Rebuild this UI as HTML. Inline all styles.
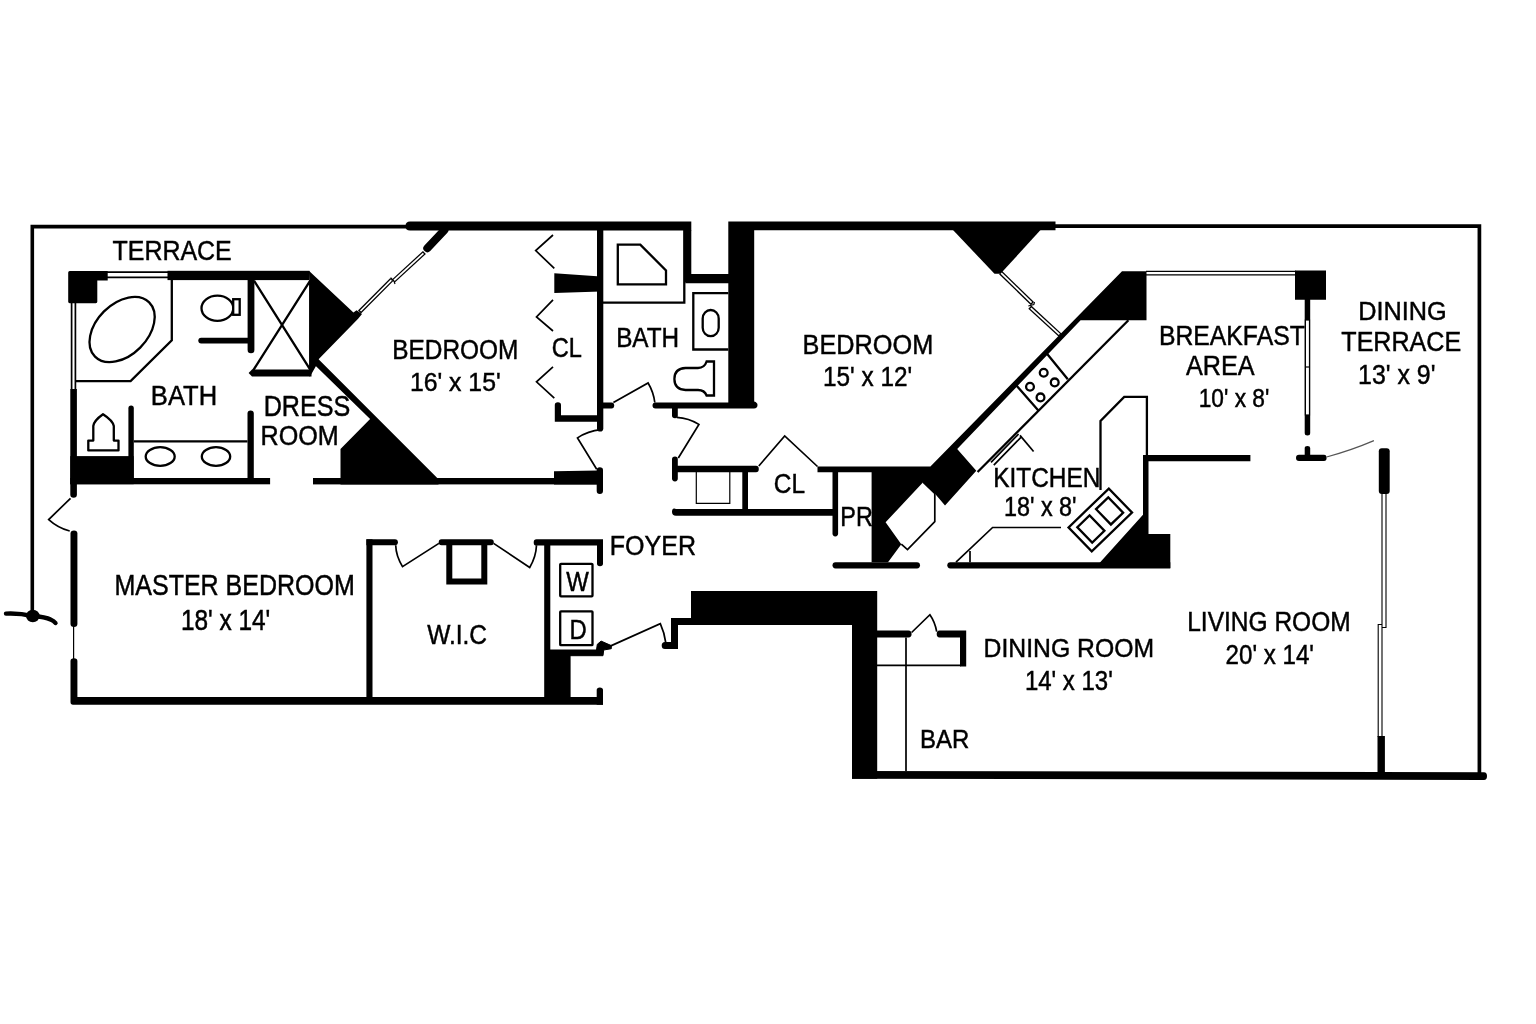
<!DOCTYPE html>
<html><head><meta charset="utf-8"><title>Floor plan</title>
<style>
html,body{margin:0;padding:0;background:#fff;overflow:hidden}
svg{display:block;filter:grayscale(1)}
text{font-family:"Liberation Sans",sans-serif;font-size:27px;fill:#000;stroke:#000;stroke-width:0.45px;vector-effect:non-scaling-stroke}
.k{fill:#000;stroke:none}
.w{fill:#fff;stroke:none}
.t{fill:none;stroke:#000;stroke-width:2.3}
.t15{fill:none;stroke:#000;stroke-width:1.7}
.t1{fill:none;stroke:#000;stroke-width:1.2}
.fw{fill:#fff;stroke:#000;stroke-width:2.3}
</style></head><body>
<svg width="1536" height="1024" viewBox="0 0 1536 1024">
<rect x="0" y="0" width="1536" height="1024" fill="#fff"/>

<!-- OUTER TERRACE LINES -->
<g id="outer">
<path d="M32.3 612V226.6H407" fill="none" stroke="#000" stroke-width="3.6"/>
<path d="M1054 226.2H1479.4V775" fill="none" stroke="#000" stroke-width="3.7"/>
<ellipse cx="32.8" cy="616" rx="6.8" ry="6.2" class="k"/>
<path d="M6 613.6Q20 613 32 616Q46 617 50.5 619.5Q54 621 55.5 623" fill="none" stroke="#000" stroke-width="4.4" stroke-linecap="round"/>
</g>

<!--WALLS-->
<g id="walls" class="k">
<!--SEC:BATH1-->
<path d="M68.2 272.4Q68.2 270.9 69.7 270.9H107.7V280.4H97.3V301.8Q97.3 303.2 95.8 303.2H69.7Q68.2 303.2 68.2 301.8Z"/>
<rect x="167.5" y="270.8" width="142" height="9.3"/>
<path d="M70.3 388.9H76.9V494.5Q76.9 497.7 73.6 497.7Q70.3 497.7 70.3 494.5Z"/>
<rect x="70.3" y="456.1" width="63.4" height="28.1"/>
<path d="M128.4 408.3Q128.4 405.6 131.1 405.6Q133.8 405.6 133.8 408.3V480H128.4Z"/>
<rect x="70.3" y="478" width="199.8" height="6.3"/>
<path d="M247.5 413.5Q247.5 410.6 250.6 410.6Q253.8 410.6 253.8 413.5V480H247.5Z"/>
<path d="M198.3 340.6Q198.3 337.7 201.2 337.7H250V343.6H201.2Q198.3 343.6 198.3 340.6Z"/>
<path d="M247.6 279H254.4V350Q254.4 353.2 251 353.2Q247.6 353.2 247.6 350Z"/>
<path d="M248.6 372.9L252 369.6H311.5V376.4H252Z"/>
<path d="M308.9 270.8L353.4 312.5L356.6 310.2L362 314L358.1 318.8L318.6 359.3L316 366L310 376.4H309.4V280Z"/>
<path d="M317.8 358.5L438.5 479.2V484.4H340.5V449L370.1 419L314.5 364.8Z"/>
<!--SEC:BED1-->
<path d="M405.5 226.2Q405.5 221.6 410 221.6H691.3V230.6H410Q405.5 230.6 405.5 226.2Z"/>
<path d="M427.3 248.2L444.5 230" fill="none" stroke="#000" stroke-width="8" stroke-linecap="round"/>
<path d="M554.3 273.3L600.8 276.6V291.6L554.3 293Z"/>
<path d="M597 229H603.3V428.4Q603.3 431.5 600.1 431.5Q597 431.5 597 428.4Z"/>
<path d="M554.8 405Q554.8 402.3 557.9 402.3Q561 402.3 561 405V415.2H598V421.8H554.8Z"/>
<rect x="313" y="478" width="288" height="6.4"/>
<path d="M554 471.3L598 470.4V484.4H554Z"/>
<path d="M596.7 470Q596.7 467.3 599.8 467.3Q603 467.3 603 470V491Q603 494 599.8 494Q596.7 494 596.7 491Z"/>
<!--SEC:MB-->
<path d="M70.5 533.5Q70.5 530.5 74 530.5Q77.4 530.5 77.4 533.5V624Q77.4 627 74 627Q70.5 627 70.5 624Z"/>
<path d="M70.5 661Q70.5 658.2 74 658.2Q77.4 658.2 77.4 661V697H603V704.7H73Q70.5 704.7 70.5 702Z"/>
<rect x="366.4" y="539.3" width="6.1" height="161"/>
<path d="M366.4 539.3H395Q397.9 539.3 397.9 542.3Q397.9 545.3 395 545.3H366.4Z"/>
<path d="M441.5 539.3H491Q493.8 539.3 493.8 542.3Q493.8 545.3 491 545.3H441.5Q438.7 545.3 438.7 542.3Q438.7 539.3 441.5 539.3Z"/>
<path d="M536.5 539.3H603V563.5Q603 566.3 600 566.3Q597 566.3 597 563.5V545.6H536.5Q533.7 545.6 533.7 542.4Q533.7 539.3 536.5 539.3Z"/>
<path d="M446.3 545H452.3V578.4H481.3V545H487.3V584.4H446.3Z"/>
<rect x="544.2" y="545" width="6.1" height="156"/>
<rect x="550" y="655" width="20.6" height="46"/>
<path d="M550 650H596.5L597.3 644.3L601.1 641.1L611.3 645.6V648.7L603.7 650L603 655.7H550Z" stroke="#000" stroke-width="1" stroke-linejoin="round"/>
<path d="M596.7 690Q596.7 687.5 599.8 687.5Q603 687.5 603 690V704.7H596.7Z"/>
<!--SEC:FOYER-->
<path d="M672 459.2Q672 456.4 675 456.4Q677.8 456.4 677.8 459.2V465.8H756Q758.8 465.8 758.8 469Q758.8 472.3 756 472.3H677.8V478.6Q677.8 481.4 675 481.4Q672 481.4 672 478.6Z"/>
<rect x="742.3" y="471" width="5.7" height="40"/>
<path d="M676 508.9H838V515.7H676Q672 515.7 672 512Q672 507.5 676 508.9Z"/>
<path d="M832.5 471H838.1V533.6Q838.1 536.4 835.3 536.4Q832.5 536.4 832.5 533.6Z"/>
<path d="M835.5 562.2H917Q920 562.2 920 565.3Q920 568.4 917 568.4H835.5Q832.5 568.4 832.5 565.3Q832.5 562.2 835.5 562.2Z"/>
<path d="M950.3 562.2H1170.3V568.4H950.3Q947.3 568.4 947.3 565.3Q947.3 562.2 950.3 562.2Z"/>
<path d="M661.7 645.5Q661.7 642 665 642H671V618H691V590.9H877.2V778.7H852V625H678V649H665Q661.7 649 661.7 645.5Z"/>
<!--SEC:BATH2-->
<path d="M684.5 230H691.3V273.9H729V283.3H685.3V282H684.5Z"/>
<path d="M728.3 221.5H1055.5V230.2H754.2V401.5Q757.5 402.5 757.5 405Q757.5 408.4 754 408.4H655.5Q652.5 408.4 652.5 405.4Q652.5 402.5 655.5 402.5H728.3Z"/>
<path d="M603 402.5H611.5Q614.2 402.5 614.2 405.4Q614.2 408.4 611.5 408.4H603Z"/>
<path d="M672 408H677.8V415.5Q677.8 418.2 675 418.2Q672 418.2 672 415.5Z"/>
<!--SEC:BED2-->
<path d="M953 230H1040.5L1000.5 273.8H994.5Z"/>
<!--SEC:KITCHEN-->
<path d="M817.5 466.4H930.4L1122 271.2H1146.5V320.3H1080.6L957.2 448.9L976.3 470.8L945 505.6L934.8 493.4L923.1 482.2L885.6 522.3L901.3 544.2L888 562.2H871.6V472.3H817.5Z"/>
<path d="M1143 455H1250.4V461.3H1148.5V534H1170.3V568H1095L1143 514.8Z"/>
<!--SEC:LIVING-->
<path d="M852 771L1484 772.2Q1487 772.2 1487 776Q1487 779.9 1484 779.9L852 778.7Z"/>
<path d="M877 630.5H908.5Q911.6 630.5 911.6 634Q911.6 637.4 908.5 637.4H877Z"/>
<path d="M939.5 630.5H966.2V666.6H960V637.4H939.5Q936.7 637.4 936.7 634Q936.7 630.5 939.5 630.5Z"/>
<path d="M1295 270.5H1326V299.8H1310.2V433Q1310.2 435.5 1307.5 435.5Q1304.7 435.5 1304.7 433V299.8H1295Z"/>
<path d="M1304.7 448Q1304.7 446 1307.5 446Q1310.2 446 1310.2 448V454.8H1324Q1326.6 454.8 1326.6 458Q1326.6 461 1324 461H1299Q1296 461 1296 458Q1296 454.8 1299 454.8H1304.7Z"/>
<rect x="1378.8" y="448.2" width="10.9" height="45.8" rx="3"/>
<rect x="1377.5" y="736" width="7.4" height="37"/>
</g>

<!--THIN-->
<g id="thin">
<!--THIN:BATH1-->
<path d="M107 272.2H168M107 277.3H168" class="t15"/>
<path d="M71.6 303V389.5M75.4 303V389.5" class="t15"/>
<path d="M171.8 280V340.3L130.6 381.1H76" class="t"/>
<ellipse cx="122.1" cy="329.5" rx="38.3" ry="25.6" transform="rotate(-45 122.1 329.5)" class="t"/>
<ellipse cx="217.4" cy="308.2" rx="15.9" ry="12.6" class="t"/>
<rect x="233.2" y="299.2" width="6.5" height="15.6" class="fw"/>
<path d="M254 280.6L310.2 369.6M310.2 280.6L253 370.6M310.3 280V370" class="t" stroke-width="1.7"/>
<path d="M133.8 441.3H247.5" class="t"/>
<ellipse cx="160.2" cy="456.5" rx="14.5" ry="9.3" class="t"/>
<ellipse cx="216" cy="456.5" rx="14.2" ry="9.3" class="t"/>
<path d="M88.3 450.4V440.6H93.3V426Q94 420.5 103 414.2Q112.8 420.5 113.8 426V440.6H118.5V450.4Z" class="t" stroke-linejoin="round"/>
<!--THIN:BED1-->
<path d="M359.5 312L391.8 279.6" stroke="#000" stroke-width="4.3" fill="none"/>
<path d="M360.5 311L391.3 280.1" stroke="#fff" stroke-width="1.7" fill="none"/>
<path d="M393.4 281L424.4 252.5" stroke="#000" stroke-width="4.3" fill="none"/>
<path d="M393.9 280.5L423.4 253.4" stroke="#fff" stroke-width="1.7" fill="none"/>
<path d="M390.6 277.6L394 281L395 284" class="t1"/>
<path d="M553 235L535.7 250.6L554.3 268.3M553 299.8L536.5 317L553 331M553 366.8L536.5 381.8L554.3 398.2" class="t15"/>
<path d="M596.7 469.3L577.5 437.9Q588 431 600.8 429.7" class="t15"/>
<!--THIN:MB-->
<path d="M73.6 626V659" class="t1"/>
<path d="M70.5 498.3L48.7 519.6Q58 528 69.7 531" class="t15"/>
<path d="M395.7 545.3Q396 556 402.5 566.6L438.9 543.4" class="t15"/>
<path d="M493.6 543.4L529.7 567.5Q536 557 536.5 545.3" class="t15"/>
<rect x="560.2" y="563.8" width="32.3" height="32.5" rx="0.8" class="t"/>
<rect x="560.2" y="611.3" width="32.3" height="33.9" rx="0.8" class="t"/>
<!--THIN:FOYER-->
<path d="M696.3 472V503.4H729.8V472" class="t1"/>
<path d="M758.8 466L784.7 436L817.5 466.5" class="t15"/>
<path d="M609.7 646.4L660.3 623.7Q664.5 633 665.8 642.8" class="t15"/>
<!--THIN:BATH2-->
<path d="M684.3 230V302.6H603" class="t"/>
<path d="M617.8 244.6H640.3L666 270.5V284.4H617.8Z" class="t" stroke-width="2.5"/>
<path d="M728.3 293.2H693.3V349.5H728.3" class="t"/>
<rect x="702.7" y="310" width="16" height="26.2" rx="8" ry="8.5" class="t"/>
<path d="M714 361.5H706.6Q704.5 368 698 368H685.5Q674.4 368.5 674.4 379Q674.4 389.5 685.5 390H698Q704.5 390 706.6 395.5H714Z" class="t" stroke-width="2.4"/>
<path d="M613.4 402.5L648.1 383Q653.5 392 654.8 402.5" class="t15"/>
<path d="M676.7 417.3Q689 418 698.9 424.4L678.3 458" class="t15"/>
<!--THIN:BED2-->
<path d="M1000.6 272.6L1032.5 303.6" stroke="#000" stroke-width="4.4" fill="none"/>
<path d="M1001.2 273.2L1031.5 302.6" stroke="#fff" stroke-width="1.8" fill="none"/>
<path d="M1029.8 307.2L1060 335" stroke="#000" stroke-width="4.4" fill="none"/>
<path d="M1030.8 308.2L1059.4 334.4" stroke="#fff" stroke-width="1.8" fill="none"/>
<path d="M1034.5 302L1033.8 304.6L1028.3 306" class="t1"/>
<!--THIN:KITCHEN-->
<path d="M923.1 482.2L934.8 493.4V521.6L907.5 549.7L901.3 544.2" class="t15"/>
<path d="M1128.4 320.2L977.6 472" class="t"/>
<path d="M1046.6 353.2L1067.8 379.2M1016 385L1038.8 411" class="t"/>
<circle cx="1043.7" cy="372.8" r="3.9" class="t" stroke-width="3"/>
<circle cx="1054.7" cy="382.4" r="3.9" class="t" stroke-width="3"/>
<circle cx="1030" cy="386.7" r="3.9" class="t" stroke-width="3"/>
<circle cx="1040.5" cy="397.4" r="3.9" class="t" stroke-width="3"/>
<path d="M1018.6 434L991 462.4M1021.4 436.8L993.8 465.2" class="t15"/>
<path d="M1020 435.4L1033.6 451.5" class="t15"/>
<path d="M1146.9 455V396.9H1124.2L1100.5 420.9V490" class="t" stroke-width="1.8"/>
<path d="M1061 527.5H992.6L956 562.2M970 551V562.2" class="t15"/>
<g transform="translate(1100.3 520) rotate(-44)" stroke-width="2.6">
<rect x="-28" y="-16.7" width="56" height="33.4" class="fw" stroke-width="2.6"/>
<rect x="4.5" y="-10.8" width="17" height="21.4" class="t" stroke-width="2.6"/>
<rect x="-21.5" y="-10.8" width="17" height="21.4" class="t" stroke-width="2.6"/>
</g>
<!--THIN:LIVING-->
<path d="M877 665.3H961M906 637.4V771" class="t15"/>
<path d="M911.6 632.5L929.9 614.7Q935 622 936.7 631.6" class="t15"/>
<path d="M1146 271.3H1296M1146 274.8H1296" class="t1"/>
<rect x="1305.4" y="320" width="4.1" height="95" fill="#fff" stroke="#000" stroke-width="1.2"/>
<path d="M1305 367H1310" class="t1"/>
<path d="M1326.6 457Q1352 450 1373.9 440.6" fill="none" stroke="#555" stroke-width="1.2"/>
<path d="M1382 493.8V627.5H1386V493.8M1378.2 737V624.5H1382V737" fill="none" stroke="#000" stroke-width="1.1"/>
</g>

<!--TEXT-->
<g id="labels">
<!--TEXT:ALL-->
<text id="t0" transform="translate(112.54 260.1) scale(0.924 1.004)">TERRACE</text>
<text id="t1" transform="translate(150.84 405.3) scale(0.947 1.047)">BATH</text>
<text id="t2" transform="translate(263.63 416.0) scale(0.931 1.060)">DRESS</text>
<text id="t3" transform="translate(260.52 445.4) scale(0.932 1.025)">ROOM</text>
<text id="t4" transform="translate(392.27 358.6) scale(0.904 1.000)">BEDROOM</text>
<text id="t5" transform="translate(409.91 391.0) scale(0.918 0.986)">16' x 15'</text>
<text id="t6" transform="translate(551.74 357.1) scale(0.874 1.005)">CL</text>
<text id="t7" transform="translate(616.15 346.6) scale(0.900 1.013)">BATH</text>
<text id="t8" transform="translate(802.51 353.5) scale(0.937 1.030)">BEDROOM</text>
<text id="t9" transform="translate(823.08 385.9) scale(0.901 1.008)">15' x 12'</text>
<text id="t10" transform="translate(773.79 492.5) scale(0.905 1.025)">CL</text>
<text id="t11" transform="translate(840.32 525.8) scale(0.865 1.000)">PR</text>
<text id="t12" transform="translate(609.84 555.3) scale(0.926 1.004)">FOYER</text>
<text id="t13" transform="translate(427.15 644.0) scale(0.908 0.994)">W.I.C</text>
<text id="t14" transform="translate(114.50 595.0) scale(0.926 1.060)">MASTER BEDROOM</text>
<text id="t15" transform="translate(180.94 629.5) scale(0.904 1.060)">18' x 14'</text>
<text id="t16" transform="translate(993.25 487.1) scale(0.904 1.003)">KITCHEN</text>
<text id="t17" transform="translate(1003.97 515.9) scale(0.866 0.989)">18' x 8'</text>
<text id="t18" transform="translate(1158.91 344.9) scale(0.918 1.036)">BREAKFAST</text>
<text id="t19" transform="translate(1185.89 375.0) scale(0.934 1.037)">AREA</text>
<text id="t20" transform="translate(1198.73 407.0) scale(0.842 0.982)">10' x 8'</text>
<text id="t21" transform="translate(1358.15 320.3) scale(0.937 0.978)">DINING</text>
<text id="t22" transform="translate(1341.30 351.2) scale(0.930 1.006)">TERRACE</text>
<text id="t23" transform="translate(1358.12 383.7) scale(0.922 1.014)">13' x 9'</text>
<text id="t24" transform="translate(1187.24 630.6) scale(0.908 1.004)">LIVING ROOM</text>
<text id="t25" transform="translate(1225.58 663.9) scale(0.894 1.049)">20' x 14'</text>
<text id="t26" transform="translate(983.55 657.0) scale(0.917 0.985)">DINING ROOM</text>
<text id="t27" transform="translate(1024.90 690.4) scale(0.889 1.021)">14' x 13'</text>
<text id="t28" transform="translate(919.95 747.6) scale(0.887 0.984)">BAR</text>
<text id="t29" transform="translate(566.35 591.0) scale(0.885 0.994)">W</text>
<text id="t30" transform="translate(569.41 639.1) scale(0.885 1.014)">D</text>
</g>
</svg>
</body></html>
